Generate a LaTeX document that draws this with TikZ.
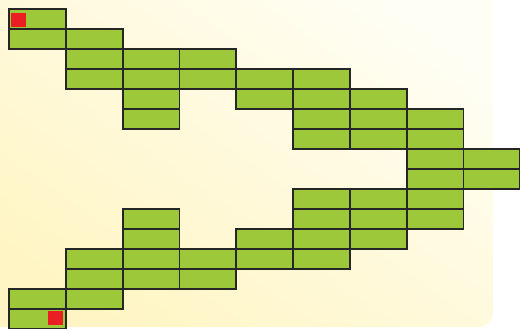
\documentclass[tikz,border=0pt]{standalone}
\definecolor{cellgreen}{RGB}{157,200,58}
\definecolor{celledge}{RGB}{38,38,38}
\definecolor{mark}{RGB}{235,30,35}
\definecolor{bgyellow}{RGB}{255,245,196}
\definecolor{bglight}{RGB}{255,254,244}
\begin{document}
\begin{tikzpicture}[x=1pt,y=-1pt,
  cell/.style={draw=celledge,fill=cellgreen,line width=1.8pt,inner sep=0pt,outer sep=0pt,
    minimum width=56.8pt,minimum height=20pt,anchor=north west},
  marker/.style={fill=mark,inner sep=0pt,outer sep=0pt,minimum width=15pt,minimum height=14pt,anchor=north west}]
\useasboundingbox (0,0) rectangle (520,329);
\shade[top color=bglight,bottom color=bgyellow,shading angle=-35,rounded corners=14pt]
  (-20,-20) rectangle (493,327);
\foreach \c/\rows in {0/{0,1,14,15},1/{1,2,3,12,13,14},2/{2,3,4,5,10,11,12,13},3/{2,3,12,13},
  4/{3,4,11,12},5/{3,4,5,6,9,10,11,12},6/{4,5,6,9,10,11},7/{5,6,7,8,9,10},8/{7,8}}{
  \foreach \r in \rows{
    \node[cell] (c\c-\r) at ({9+56.8*\c},{9+20*\r}) {};
  }
}
\node[marker] (start) at (11,13) {};
\node[marker] (goal) at (47.5,311) {};
\end{tikzpicture}
\end{document}
